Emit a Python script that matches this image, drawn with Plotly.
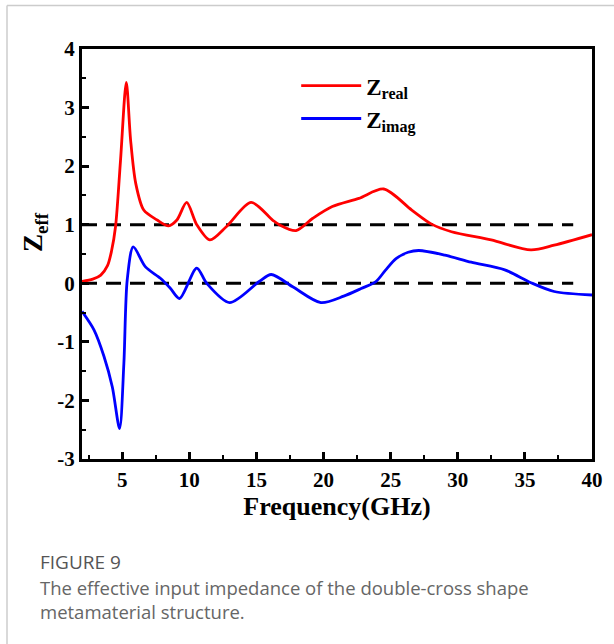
import plotly.graph_objects as go

# ---- data ----
freq_real = [2.0, 2.8, 3.4, 3.9, 4.2, 4.5, 4.87, 5.3, 5.62, 6.0, 6.6, 7.6, 8.45, 9.07, 9.8, 10.55,
             11.53, 12.77, 14.6, 16.2, 16.7, 17.95, 19.2, 20.65, 22.63, 24.48, 26.57,
             28.05, 29.53, 32.49, 35.45, 37.18, 40.0]
z_real = [0.03, 0.07, 0.14, 0.3, 0.55, 0.97, 2.1, 3.43, 2.45, 1.71, 1.25, 1.08, 0.98, 1.08, 1.38, 1.0,
          0.74, 0.97, 1.38, 1.08, 1.0, 0.9, 1.11, 1.31, 1.45, 1.61, 1.25,
          1.01, 0.88, 0.74, 0.57, 0.65, 0.83]

freq_imag = [2.0, 2.9, 3.64, 4.26, 4.8, 5.12, 5.37, 5.82, 6.73, 7.84, 8.58, 9.27, 10.55,
             11.29, 13.0, 15.2, 16.1, 17.7, 19.8, 21.5, 22.8, 23.9, 24.6, 25.4, 26.3, 27.1, 29.04,
             31.0, 33.5, 35.45, 37.18, 40.0]
z_imag = [-0.48, -0.8, -1.25, -1.77, -2.48, -1.37, 0.06, 0.62, 0.28, 0.085, -0.085, -0.26, 0.26,
          0.0, -0.33, 0.03, 0.15, -0.06, -0.33, -0.22, -0.09, 0.03, 0.22, 0.42, 0.53, 0.56, 0.48,
          0.36, 0.23, 0.01, -0.14, -0.2]

ref_levels = [1, 0]
ref_x = [2.0, 38.6]

x_ticks = [5, 10, 15, 20, 25, 30, 35, 40]
y_ticks = [-3, -2, -1, 0, 1, 2, 3, 4]

series_names = ["<b>Z<sub>real</sub></b>", "<b>Z<sub>imag</sub></b>"]
caption_title = "FIGURE 9"
caption_lines = ["The effective input impedance of the double-cross shape",
                 "metamaterial structure."]

W, H = 614, 644
L, R, T, B = 82, 22, 49, 185
PW, PH = W - L - R, H - T - B

serif = "Liberation Serif, Times New Roman, serif"
sans = "Open Sans, Noto Sans, sans-serif"

fig = go.Figure()

for lvl in ref_levels:
    fig.add_trace(go.Scatter(x=ref_x, y=[lvl, lvl], mode="lines",
                             line=dict(color="black", width=3, dash="15px,9px"),
                             showlegend=False, hoverinfo="skip"))

fig.add_trace(go.Scatter(x=freq_real, y=z_real, mode="lines", name=series_names[0], legendgroup="a",
                         line=dict(color="#ff0000", width=2.8, shape="spline", smoothing=0.8)))
fig.add_trace(go.Scatter(x=freq_imag, y=z_imag, mode="lines", name=series_names[1], legendgroup="b",
                         line=dict(color="#0000ff", width=2.8, shape="spline", smoothing=0.8)))

axis_common = dict(showline=True, linecolor="black", linewidth=3, mirror=True,
                   ticks="inside", ticklen=7, tickwidth=2.6, tickcolor="black",
                   showgrid=False, zeroline=False,
                   tickfont=dict(family=serif, size=21, color="black", weight="bold"))

fig.update_xaxes(range=[2, 40], tickvals=x_ticks, ticktext=[str(v) for v in x_ticks],
                 minor=dict(ticks="inside", dtick=2.5, tick0=0, ticklen=4, tickwidth=2.2, tickcolor="black"),
                 title=dict(text="<b>Frequency(GHz)</b>", font=dict(family=serif, size=26, color="black"),
                            standoff=4),
                 **axis_common)
fig.update_yaxes(range=[-3, 4], tickvals=y_ticks, ticktext=[str(v) for v in y_ticks],
                 minor=dict(ticks="inside", dtick=0.5, tick0=0, ticklen=4, tickwidth=2.2, tickcolor="black"),
                 **axis_common)

annotations = [
    dict(text="<b>Z<sub>eff</sub></b>", textangle=-90, xref="paper", yref="paper",
         x=(35 - L) / PW, y=1 - (232 - T) / PH, xanchor="center", yanchor="middle", showarrow=False,
         font=dict(family=serif, size=27, color="black")),
    dict(text=caption_title, xref="paper", yref="paper", x=(38 - L) / PW, y=1 - (562 - T) / PH,
         xanchor="left", yanchor="middle", showarrow=False,
         font=dict(family=sans, size=19, color="#555555")),
]
for i, line in enumerate(caption_lines):
    annotations.append(dict(text=line, xref="paper", yref="paper", x=(38 - L) / PW,
                            y=1 - (587 + 24 * i - T) / PH, xanchor="left", yanchor="middle",
                            showarrow=False, font=dict(family=sans, size=18.5, color="#666666")))

shapes = [
    dict(type="line", xref="paper", yref="paper", x0=(7 - L) / PW, x1=(W - L) / PW,
         y0=1 - (5.5 - T) / PH, y1=1 - (5.5 - T) / PH, line=dict(color="#cccccc", width=1.5)),
    dict(type="line", xref="paper", yref="paper", x0=(7 - L) / PW, x1=(7 - L) / PW,
         y0=1 - (5.5 - T) / PH, y1=1 - (H - T) / PH, line=dict(color="#cccccc", width=1.5)),
]

fig.update_layout(
    width=W, height=H, margin=dict(l=L, r=R, t=T, b=B),
    paper_bgcolor="white", plot_bgcolor="white",
    showlegend=True,
    legend=dict(x=0.42, y=0.963, xanchor="left", yanchor="top", bgcolor="rgba(0,0,0,0)",
                itemwidth=60, font=dict(family=serif, size=23, color="black"),
                tracegroupgap=0),
    annotations=annotations, shapes=shapes,
)

fig.write_html("out.html", config={"displayModeBar": False},
               post_script="document.body.style.margin='0';document.body.style.overflow='hidden';")
